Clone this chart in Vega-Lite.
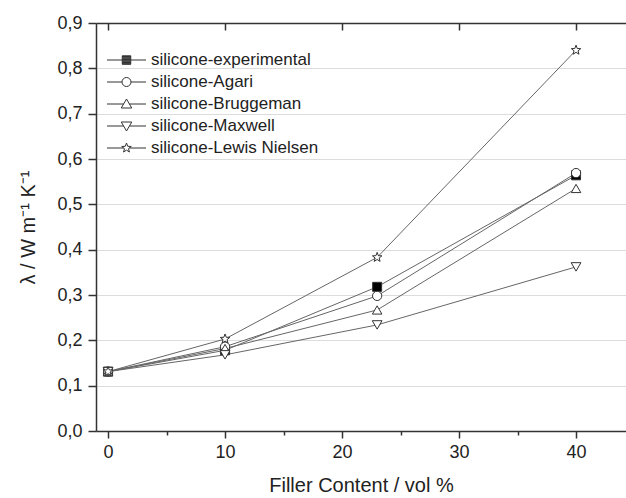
{
  "$schema": "https://vega.github.io/schema/vega-lite/v6.json",
  "width": 530,
  "height": 408,
  "autosize": {"type": "none"},
  "padding": {"left": 96, "top": 23, "right": 0, "bottom": 67},
  "background": "white",
  "config": {
    "view": {"stroke": null},
    "font": "Liberation Sans",
    "axis": {"labelFont": "Liberation Sans", "titleFont": "Liberation Sans"},
    "legend": {"labelFont": "Liberation Sans"}
  },
  "data": {
    "values": [
      {"series": "silicone-experimental", "content": 0, "lambda": 0.131},
      {"series": "silicone-experimental", "content": 10, "lambda": 0.178},
      {"series": "silicone-experimental", "content": 23, "lambda": 0.318},
      {"series": "silicone-experimental", "content": 40, "lambda": 0.564},
      {"series": "silicone-Agari", "content": 0, "lambda": 0.131},
      {"series": "silicone-Agari", "content": 10, "lambda": 0.186},
      {"series": "silicone-Agari", "content": 23, "lambda": 0.298},
      {"series": "silicone-Agari", "content": 40, "lambda": 0.569},
      {"series": "silicone-Bruggeman", "content": 0, "lambda": 0.131},
      {"series": "silicone-Bruggeman", "content": 10, "lambda": 0.182},
      {"series": "silicone-Bruggeman", "content": 23, "lambda": 0.267},
      {"series": "silicone-Bruggeman", "content": 40, "lambda": 0.535},
      {"series": "silicone-Maxwell", "content": 0, "lambda": 0.131},
      {"series": "silicone-Maxwell", "content": 10, "lambda": 0.168},
      {"series": "silicone-Maxwell", "content": 23, "lambda": 0.234},
      {"series": "silicone-Maxwell", "content": 40, "lambda": 0.362},
      {"series": "silicone-Lewis Nielsen", "content": 0, "lambda": 0.131},
      {"series": "silicone-Lewis Nielsen", "content": 10, "lambda": 0.203},
      {"series": "silicone-Lewis Nielsen", "content": 23, "lambda": 0.383},
      {"series": "silicone-Lewis Nielsen", "content": 40, "lambda": 0.84}
    ]
  },
  "layer": [
    {
      "mark": {"type": "line", "color": "#666666", "strokeWidth": 1},
      "encoding": {
        "x": {
          "field": "content", "type": "quantitative",
          "scale": {"domain": [-1.03, 44.27], "nice": false, "zero": false},
          "axis": {
            "orient": "bottom",
            "values": [0, 5, 10, 15, 20, 25, 30, 35, 40],
            "labelExpr": "datum.value % 10 == 0 ? datum.label : ''",
            "tickSize": {"condition": {"test": "datum.value % 10 == 0", "value": 7}, "value": 4},
            "grid": false,
            "labelFontSize": 18, "labelPadding": 5, "labelColor": "#222222",
            "domainColor": "#333333", "domainWidth": 1.5,
            "tickColor": "#333333", "tickWidth": 1.5,
            "title": "Filler Content / vol %",
            "titleFontSize": 20, "titleFontWeight": "normal", "titleColor": "#222222", "titlePadding": 14
          }
        },
        "y": {
          "field": "lambda", "type": "quantitative",
          "scale": {"domain": [0, 0.9], "nice": false},
          "axis": {
            "values": [0, 0.05, 0.1, 0.15, 0.2, 0.25, 0.3, 0.35, 0.4, 0.45, 0.5, 0.55, 0.6, 0.65, 0.7, 0.75, 0.8, 0.85, 0.9],
            "labelExpr": "round(datum.value*100) % 10 == 0 ? replace(format(datum.value, '.1f'), '.', ',') : ''",
            "tickSize": {"condition": {"test": "round(datum.value*100) % 10 == 0", "value": 8}, "value": 4},
            "grid": true,
            "gridColor": "#dcdcdc",
            "gridOpacity": {"condition": {"test": "round(datum.value*100) % 10 == 0", "value": 1}, "value": 0},
            "labelFontSize": 18, "labelPadding": 6, "labelColor": "#222222",
            "domainColor": "#333333", "domainWidth": 1.5,
            "tickColor": "#333333", "tickWidth": 1.5,
            "title": "λ / W m⁻¹ K⁻¹",
            "titleFontSize": 20, "titleFontWeight": "normal", "titleColor": "#222222", "titlePadding": 18
          }
        },
        "detail": {"field": "series"}
      }
    },
    {
      "mark": {"type": "point", "filled": true, "stroke": "#333333", "strokeWidth": 1, "opacity": 1},
      "encoding": {
        "x": {
          "field": "content", "type": "quantitative",
          "scale": {"domain": [-1.03, 44.27], "nice": false, "zero": false},
          "axis": {
            "orient": "top",
            "values": [0, 10, 20, 30, 40],
            "labels": false,
            "title": null,
            "grid": false,
            "tickSize": -7,
            "domainColor": "#333333", "domainWidth": 1.5,
            "tickColor": "#333333", "tickWidth": 1.5
          }
        },
        "y": {"field": "lambda", "type": "quantitative"},
        "shape": {
          "field": "series",
          "scale": {
            "domain": ["silicone-experimental", "silicone-Agari", "silicone-Bruggeman", "silicone-Maxwell", "silicone-Lewis Nielsen"],
            "range": ["square", "circle", "triangle-up", "triangle-down", "M0,-1L0.247,-0.34L0.951,-0.309L0.399,0.13L0.588,0.809L0,0.42L-0.588,0.809L-0.399,0.13L-0.951,-0.309L-0.247,-0.34Z"]
          },
          "legend": null
        },
        "fill": {
          "field": "series",
          "scale": {
            "domain": ["silicone-experimental", "silicone-Agari", "silicone-Bruggeman", "silicone-Maxwell", "silicone-Lewis Nielsen"],
            "range": ["#000000", "#ffffff", "#ffffff", "#ffffff", "#ffffff"]
          },
          "legend": null
        },
        "size": {
          "field": "series",
          "scale": {
            "domain": ["silicone-experimental", "silicone-Agari", "silicone-Bruggeman", "silicone-Maxwell", "silicone-Lewis Nielsen"],
            "range": [81, 100, 121, 121, 134]
          },
          "legend": null
        }
      }
    },
    {
      "transform": [{"filter": "false"}],
      "mark": {"type": "point", "filled": false, "stroke": "#333333", "strokeWidth": 1, "opacity": 1, "size": 100},
      "encoding": {
        "shape": {
          "field": "series",
          "scale": {
            "domain": ["silicone-experimental", "silicone-Agari", "silicone-Bruggeman", "silicone-Maxwell", "silicone-Lewis Nielsen"],
            "range": [
              "M-3.9,0L-0.85,0M0.85,0L3.9,0M-0.85,-0.85L0.85,-0.85L0.85,0.85L-0.85,0.85ZM-0.85,-0.7L0.85,-0.7M-0.85,-0.55L0.85,-0.55M-0.85,-0.4L0.85,-0.4M-0.85,-0.25L0.85,-0.25M-0.85,-0.1L0.85,-0.1M-0.85,0.05L0.85,0.05M-0.85,0.2L0.85,0.2M-0.85,0.35L0.85,0.35M-0.85,0.5L0.85,0.5M-0.85,0.65L0.85,0.65M-0.85,0.78L0.85,0.78",
              "M-3.9,0L-0.9,0M0.9,0L3.9,0M0.9,0A0.9,0.9,0,1,1,-0.9,0A0.9,0.9,0,1,1,0.9,0Z",
              "M-3.9,0L-0.58,0M0.58,0L3.9,0M0,-1L1.05,0.8L-1.05,0.8Z",
              "M-3.9,0L-0.58,0M0.58,0L3.9,0M0,1L1.05,-0.8L-1.05,-0.8Z",
              "M-3.9,0L-0.56,0M0.56,0L3.9,0M0,-1L0.247,-0.34L0.951,-0.309L0.399,0.13L0.588,0.809L0,0.42L-0.588,0.809L-0.399,0.13L-0.951,-0.309L-0.247,-0.34Z"
            ]
          },
          "legend": {
            "title": null, "orient": "none", "legendX": 22, "legendY": 28.5,
            "padding": 0, "rowPadding": 4, "labelFontSize": 17, "labelColor": "#222222", "labelLimit": 400,
            "labelOffset": 16, "symbolSize": 100, "symbolStrokeWidth": 1, "symbolStrokeColor": "#333333"
          }
        }
      }
    }
  ],
  "resolve": {
    "axis": {"x": "independent"},
    "scale": {"shape": "independent", "fill": "independent", "size": "independent"}
  }
}
